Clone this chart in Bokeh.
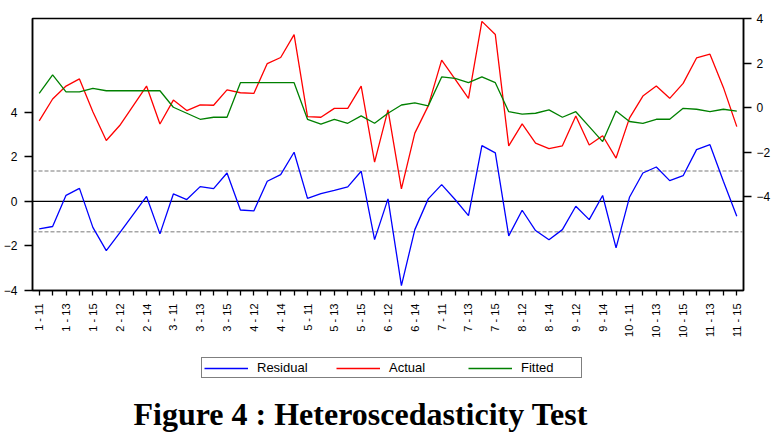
import math

from bokeh.embed import file_html
from bokeh.layouts import column
from bokeh.models import FixedTicker, Label, Legend, LegendItem, LinearAxis, Range1d, Span
from bokeh.plotting import figure
from bokeh.resources import INLINE

# Panel observations (cross-section - period); unbalanced, 53 rows
obs_labels = [
    "1 - 11", "1 - 12", "1 - 13", "1 - 14", "1 - 15",
    "2 - 11", "2 - 12", "2 - 13", "2 - 14", "2 - 15",
    "3 - 11", "3 - 12", "3 - 13", "3 - 14", "3 - 15",
    "4 - 11", "4 - 12", "4 - 13", "4 - 14", "4 - 15",
    "5 - 11", "5 - 12", "5 - 13", "5 - 14", "5 - 15",
    "6 - 11", "6 - 12", "6 - 13", "6 - 14", "6 - 15",
    "7 - 11", "7 - 12", "7 - 13", "7 - 14", "7 - 15",
    "8 - 11", "8 - 12", "8 - 13", "8 - 14", "8 - 15",
    "9 - 12", "9 - 13", "9 - 14", "9 - 15",
    "10 - 11", "10 - 12", "10 - 13", "10 - 14", "10 - 15",
    "11 - 12", "11 - 13", "11 - 14", "11 - 15",
]

residual = [
    -1.24, -1.13, 0.27, 0.58, -1.17, -2.21, -1.42, -0.60, 0.22, -1.46,
    0.33, 0.08, 0.66, 0.57, 1.27, -0.39, -0.43, 0.90, 1.20, 2.20,
    0.13, 0.35, 0.49, 0.65, 1.35, -1.72, 0.11, -3.78, -1.27, 0.11,
    0.75, 0.08, -0.64, 2.50, 2.17, -1.55, -0.40, -1.31, -1.72, -1.27,
    -0.22, -0.82, 0.26, -2.09, 0.18, 1.27, 1.54, 0.93, 1.15, 2.32,
    2.54, 0.90, -0.67,
]

actual = [
    -0.59, 0.39, 0.97, 1.29, -0.18, -1.47, -0.80, 0.08, 0.97, -0.73,
    0.34, -0.13, 0.13, 0.11, 0.80, 0.67, 0.64, 1.98, 2.25, 3.28,
    -0.40, -0.43, -0.03, -0.03, 0.97, -2.44, -0.10, -3.64, -1.14, 0.08,
    2.13, 1.28, 0.42, 3.87, 3.28, -1.71, -0.73, -1.59, -1.84, -1.71,
    -0.37, -1.67, -1.26, -2.26, -0.47, 0.52, 0.97, 0.42, 1.09, 2.23,
    2.40, 0.91, -0.85,
]

fitted = [
    0.64, 1.47, 0.71, 0.71, 0.87, 0.76, 0.76, 0.76, 0.76, 0.76,
    0.02, -0.25, -0.52, -0.43, -0.43, 1.12, 1.12, 1.12, 1.12, 1.12,
    -0.52, -0.74, -0.52, -0.70, -0.37, -0.70, -0.25, 0.12, 0.22, 0.08,
    1.38, 1.31, 1.12, 1.38, 1.12, -0.18, -0.29, -0.25, -0.10, -0.43,
    -0.18, -0.85, -1.52, -0.15, -0.62, -0.70, -0.52, -0.52, -0.03, -0.07,
    -0.18, -0.07, -0.15,
]

resid_se = 1.36
left_ticks = [-4, -2, 0, 2, 4]
right_ticks = [-4, -2, 0, 2, 4]

series_names = ["Residual", "Actual", "Fitted"]
series_colors = ["#0000FF", "#FF0000", "#008000"]
caption = "Figure 4 : Heteroscedasticity Test"

x = list(range(len(obs_labels)))

AXIS_FONT = "Liberation Sans"

# ---- main chart -------------------------------------------------------------
p = figure(
    width=778, height=345,
    min_border_left=32, min_border_right=35, min_border_top=18, min_border_bottom=55,
    x_range=Range1d(-0.5, len(obs_labels) - 0.5),
    y_range=Range1d(-4, 8.2),
    output_backend="svg", toolbar_location=None,
    background_fill_color="white", border_fill_color="white",
)
p.extra_y_ranges = {"af": Range1d(-8.2, 4)}
p.xgrid.visible = False
p.ygrid.visible = False
p.outline_line_color = "black"
p.outline_line_width = 1.5

# bottom axis: a tick for every observation, label every other one
xa = p.xaxis[0]
xa.ticker = FixedTicker(ticks=x)
xa.major_label_overrides = {i: (lab if i % 2 == 0 else "") for i, lab in enumerate(obs_labels)}
xa.major_label_orientation = math.pi / 2
xa.major_tick_in = 0
xa.major_tick_out = 5
xa.minor_tick_line_color = None
xa.major_label_standoff = 8
xa.major_label_text_font = AXIS_FONT
xa.major_label_text_font_size = "11px"
xa.major_label_text_color = "black"
xa.axis_line_width = 1.5
xa.major_tick_line_width = 1.3

# left axis: residual
ya = p.yaxis[0]
ya.ticker = FixedTicker(ticks=left_ticks)
ya.major_tick_in = 0
ya.major_tick_out = 8
ya.minor_tick_line_color = None
ya.major_label_standoff = 7
ya.major_label_text_font = AXIS_FONT
ya.major_label_text_font_size = "12px"
ya.major_label_text_color = "black"
ya.axis_line_width = 1.5
ya.major_tick_line_width = 1.3

# right axis: actual / fitted
ra = LinearAxis(y_range_name="af", ticker=FixedTicker(ticks=right_ticks))
ra.major_tick_in = 0
ra.major_tick_out = 8
ra.minor_tick_line_color = None
ra.major_label_standoff = 5
ra.major_label_text_font = AXIS_FONT
ra.major_label_text_font_size = "12px"
ra.major_label_text_color = "black"
ra.axis_line_width = 1.5
ra.major_tick_line_width = 1.3
p.add_layout(ra, "right")

# zero line and +/- one standard error band of the residuals
p.add_layout(Span(location=0, dimension="width", line_color="black", line_width=1.2, level="underlay"))
for s in (resid_se, -resid_se):
    p.add_layout(Span(location=s, dimension="width", line_color="#A6A6A6",
                      line_width=1.5, line_dash="4 2", level="underlay"))

p.line(x, residual, line_color=series_colors[0], line_width=1.3)
p.line(x, actual, line_color=series_colors[1], line_width=1.3, y_range_name="af")
p.line(x, fitted, line_color=series_colors[2], line_width=1.3, y_range_name="af")

# ---- legend and caption strip ---------------------------------------------------
foot = figure(
    width=778, height=87,
    min_border_left=0, min_border_right=0, min_border_top=0, min_border_bottom=0,
    x_range=Range1d(0, 1), y_range=Range1d(0, 1),
    x_axis_type=None, y_axis_type=None,
    output_backend="svg", toolbar_location=None,
    background_fill_color="white", border_fill_color="white",
)
foot.xgrid.visible = False
foot.ygrid.visible = False
foot.outline_line_color = None

# key renderers live outside the visible range; only their legend swatches show
keys = [foot.line([5, 6], [5, 5], line_color=c, line_width=1.3) for c in series_colors]
legend = Legend(
    items=[LegendItem(label=n, renderers=[r]) for n, r in zip(series_names, keys)],
    orientation="horizontal",
    location=(169, 54),
    glyph_width=44,
    glyph_height=12,
    label_standoff=9,
    label_width=58,
    label_height=15,
    spacing=21,
    padding=2,
    margin=0,
    label_text_font=AXIS_FONT,
    label_text_font_size="13px",
    label_text_color="black",
    border_line_color="black",
    border_line_width=1.2,
    background_fill_color="white",
)
foot.add_layout(legend)

foot.add_layout(Label(
    x=101, y=19, x_units="screen", y_units="screen",
    text=caption,
    text_font="Liberation Serif",
    text_font_style="bold",
    text_font_size="32px",
    text_color="black",
    text_baseline="alphabetic",
))

layout = column(p, foot, spacing=0)
open("out.html", "w").write(file_html(layout, INLINE))
